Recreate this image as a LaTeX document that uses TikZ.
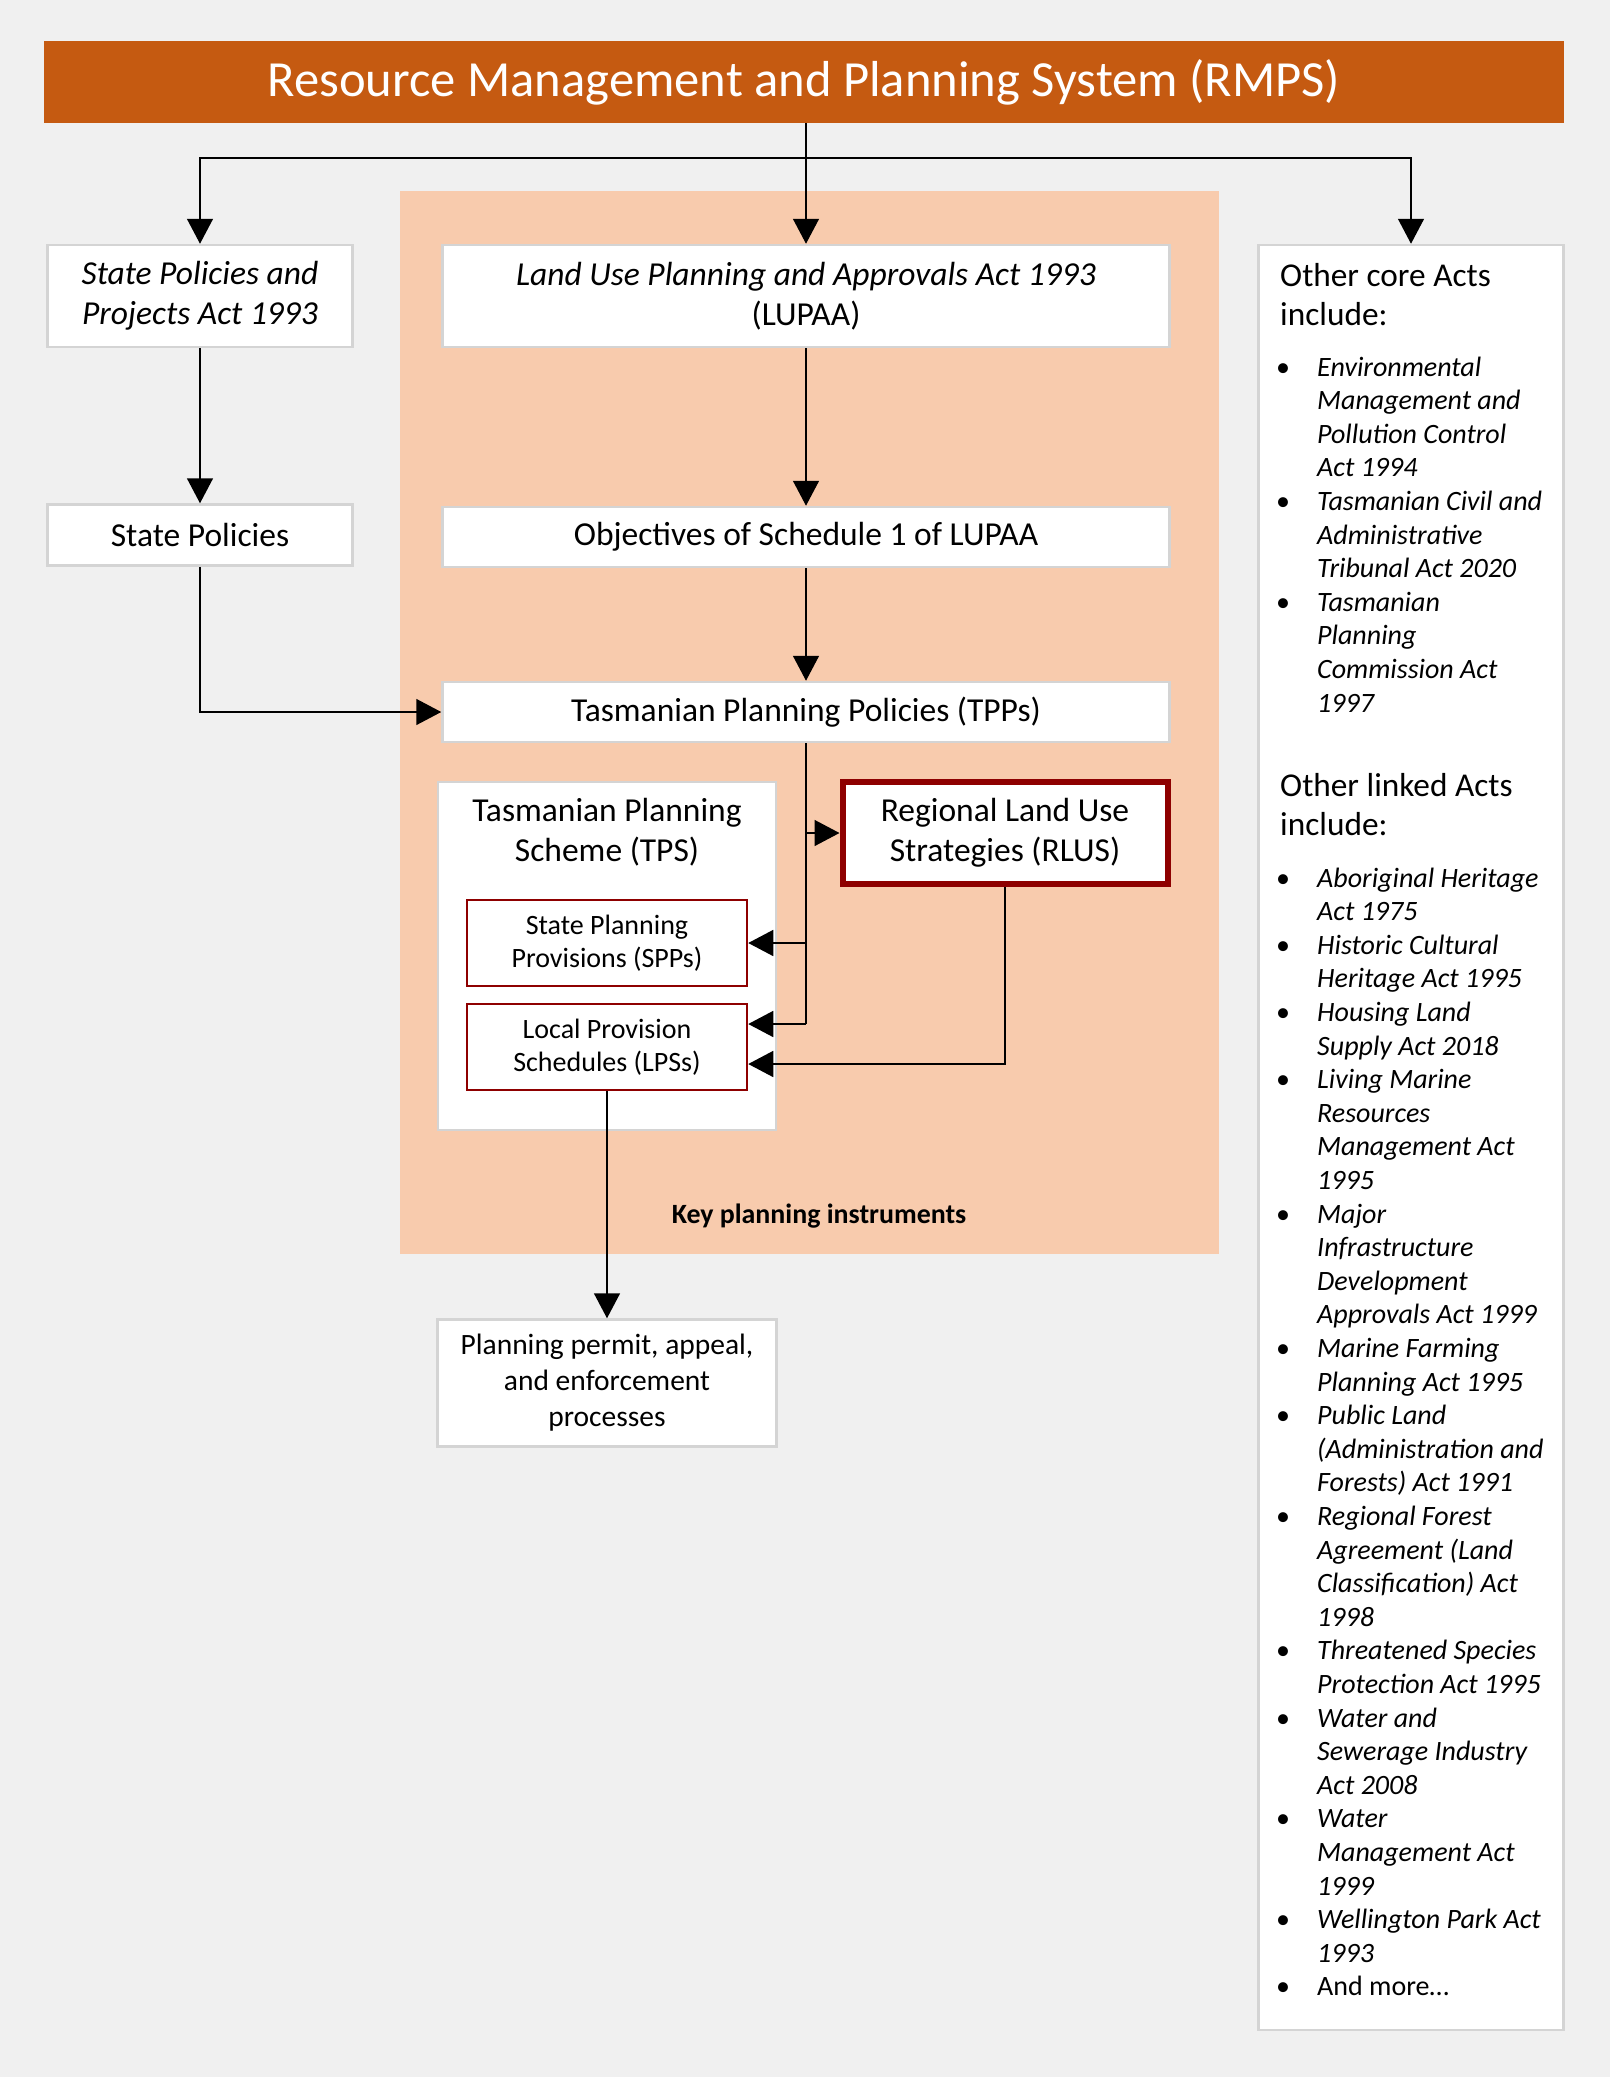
\documentclass[tikz,border=0pt]{standalone}
\usepackage{fontspec}
\setmainfont{Carlito}
\usepackage{array}
\usetikzlibrary{arrows.meta,calc}
\definecolor{bggrey}{HTML}{F0F0F0}
\definecolor{boxedge}{HTML}{D4D4D4}
\definecolor{rmpsorange}{HTML}{C55A11}
\definecolor{peach}{HTML}{F8CBAD}
\definecolor{rlusred}{HTML}{8E0000}
\tikzset{
  box/.style={draw=boxedge, line width=2.5pt, fill=white, align=center, inner sep=0pt,
    font=\fontsize{33.5}{40}\selectfont},
  provbox/.style={box, draw=rlusred, font=\fontsize{28}{33}\selectfont,
    minimum width=280pt, minimum height=86pt},
  header/.style={fill=rmpsorange, text=white, minimum width=1520pt, minimum height=82pt,
    inner sep=0pt, font=\fontsize{50.6}{60}\selectfont},
  heading/.style={anchor=base west, inner sep=0pt, font=\fontsize{33.3}{39.75}\selectfont},
  actlist/.style={anchor=base west, inner sep=0pt, font=\fontsize{28}{33.6}\selectfont},
  line/.style={line width=1.5pt},
  arr/.style={line, -{Triangle[width=26pt,length=25pt]}}
}

\begin{document}
\begin{tikzpicture}[x=1pt,y=-1pt]
  % Canvas
  \useasboundingbox (0,0) rectangle (1610,2077);
  \fill[bggrey] (0,0) rectangle (1610,2077);

  % Key planning instruments panel
  \fill[peach] (400,191) rectangle (1219,1254);

  % Header
  \node[header] (rmps) at (804,82) {Resource Management and Planning System (RMPS)};

  % Left column
  \node[box, minimum width=305pt, minimum height=102pt] (spact) at (200,296)
    {\textit{State Policies and}\\\textit{Projects Act 1993}};
  \node[box, minimum width=305pt, minimum height=61pt] (statepol) at (200,535) {State Policies};

  % Middle column
  \node[box, minimum width=727pt, minimum height=102pt] (lupaa) at (806,296)
    {\textit{Land Use Planning and Approvals Act 1993}\\(LUPAA)};
  \node[box, minimum width=727pt, minimum height=60pt] (objectives) at (806,537)
    {Objectives of Schedule 1 of LUPAA};
  \node[box, minimum width=727pt, minimum height=60pt] (tpp) at (806,712)
    {Tasmanian Planning Policies (TPPs)};
  \node[box, minimum width=338pt, minimum height=348pt] (tps) at (607,956) {};
  \node[align=center, inner sep=0pt, font=\fontsize{33.5}{40}\selectfont] (tpstitle) at (607,832)
    {Tasmanian Planning\\Scheme (TPS)};
  \node[provbox] (spp) at (607,943) {State Planning\\Provisions (SPPs)};
  \node[provbox] (lps) at (607,1047) {Local Provision\\Schedules (LPSs)};
  \node[box, draw=rlusred, line width=6pt, minimum width=325pt, minimum height=102pt] (rlus) at (1005,833)
    {Regional Land Use\\Strategies (RLUS)};
  \node[font=\bfseries\fontsize{27.9}{33}\selectfont] (keylabel) at (819,1216) {Key planning instruments};
  \node[box, font=\fontsize{29.5}{36}\selectfont, minimum width=339pt, minimum height=127pt] (permit) at (607,1383)
    {Planning permit, appeal,\\and enforcement\\processes};

  % Right column
  \node[box, minimum width=305pt, minimum height=1785pt] (otheracts) at (1411,1137.5) {};
  \node[heading] (coretitle) at (1280,286)
    {\begin{tabular}[t]{@{}l@{}}Other core Acts\\include:\end{tabular}};
  \node[actlist] (corelist) at (1276,376) {\begin{tabular}[t]{@{}p{41pt}@{}>{\itshape}l@{}}
    \textbullet & Environmental\\
    & Management and\\
    & Pollution Control\\
    & Act 1994\\
    \textbullet & Tasmanian Civil and\\
    & Administrative\\
    & Tribunal Act 2020\\
    \textbullet & Tasmanian\\
    & Planning\\
    & Commission Act\\
    & 1997
  \end{tabular}};
  \node[heading] (linkedtitle) at (1280,796)
    {\begin{tabular}[t]{@{}l@{}}Other linked Acts\\include:\end{tabular}};
  \node[actlist] (linkedlist) at (1276,887) {\begin{tabular}[t]{@{}p{41pt}@{}>{\itshape}l@{}}
    \textbullet & Aboriginal Heritage\\
    & Act 1975\\
    \textbullet & Historic Cultural\\
    & Heritage Act 1995\\
    \textbullet & Housing Land\\
    & Supply Act 2018\\
    \textbullet & Living Marine\\
    & Resources\\
    & Management Act\\
    & 1995\\
    \textbullet & Major\\
    & Infrastructure\\
    & Development\\
    & Approvals Act 1999\\
    \textbullet & Marine Farming\\
    & Planning Act 1995\\
    \textbullet & Public Land\\
    & (Administration and\\
    & Forests) Act 1991\\
    \textbullet & Regional Forest\\
    & Agreement (Land\\
    & Classification) Act\\
    & 1998\\
    \textbullet & Threatened Species\\
    & Protection Act 1995\\
    \textbullet & Water and\\
    & Sewerage Industry\\
    & Act 2008\\
    \textbullet & Water\\
    & Management Act\\
    & 1999\\
    \textbullet & Wellington Park Act\\
    & 1993\\
    \textbullet & \upshape And more…
  \end{tabular}};

  % Connectors from the header
  \coordinate (split) at (806,158);
  \draw[arr] (rmps.south -| split) -- (lupaa.north);
  \draw[arr] (split) -| (spact.north);
  \draw[arr] (split) -| (otheracts.north);

  % Connectors between the instruments
  \draw[arr] (spact.south) -- (statepol.north);
  \draw[arr] (statepol.south) |- (tpp.west);
  \draw[arr] (lupaa.south) -- (objectives.north);
  \draw[arr] (objectives.south) -- (tpp.north);
  \coordinate (lpsin1) at ($(lps.east)+(0,-23)$);
  \coordinate (lpsin2) at ($(lps.east)+(0,17)$);
  \draw[line] (tpp.south) -- (tpp.south |- lpsin1);
  \draw[arr] (tpp.south |- rlus.west) -- (rlus.west);
  \draw[arr] (tpp.south |- spp.east) -- (spp.east);
  \draw[arr] (tpp.south |- lpsin1) -- (lpsin1);
  \draw[arr] (rlus.south) |- (lpsin2);
  \draw[arr] (lps.south) -- (permit.north);
\end{tikzpicture}
\end{document}
